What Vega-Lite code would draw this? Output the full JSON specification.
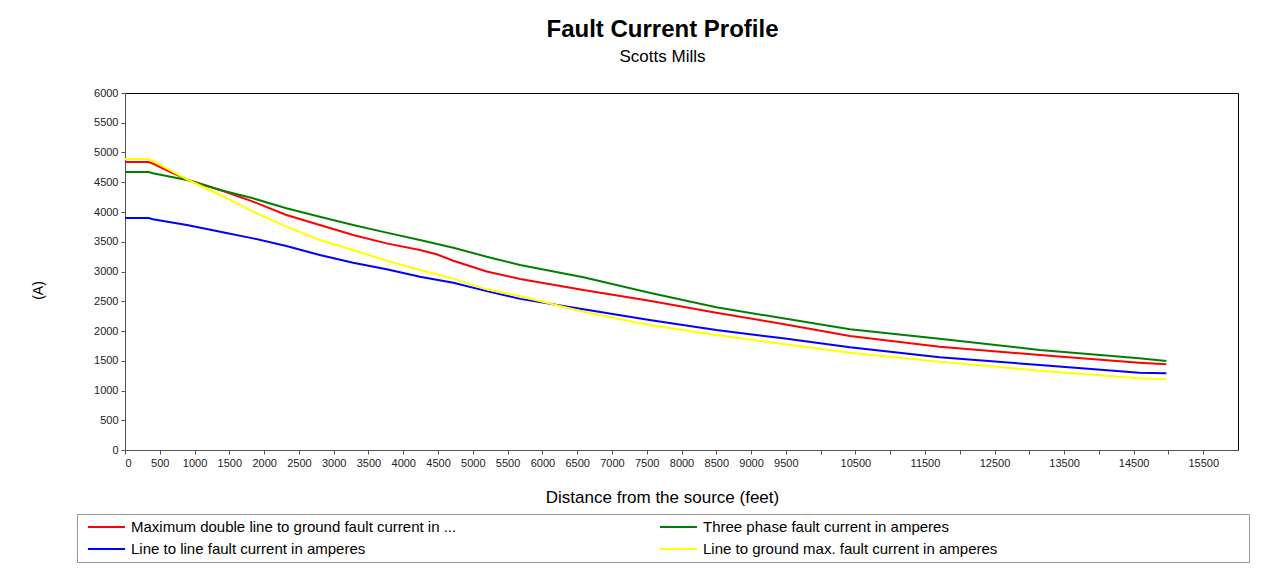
{
  "$schema": "https://vega.github.io/schema/vega-lite/v6.json",
  "width": 1113,
  "height": 357,
  "autosize": {"type": "none"},
  "padding": {"left": 125, "top": 93, "right": 46, "bottom": 125},
  "background": "white",
  "title": {
    "text": "Fault Current Profile",
    "subtitle": "Scotts Mills",
    "font": "Liberation Sans",
    "subtitleFont": "Liberation Sans",
    "fontSize": 24,
    "fontWeight": "bold",
    "subtitleFontSize": 17,
    "color": "#000000",
    "subtitleColor": "#000000",
    "anchor": "middle",
    "dx": -19,
    "offset": 22,
    "subtitlePadding": 7
  },
  "config": {
    "font": "Liberation Sans",
    "view": {"stroke": "#000000", "strokeWidth": 1}
  },
  "data": {
    "values": [
      {"series": "Maximum double line to ground fault current in amperes", "distance": 0, "current": 4840},
      {"series": "Maximum double line to ground fault current in amperes", "distance": 340, "current": 4840},
      {"series": "Maximum double line to ground fault current in amperes", "distance": 400, "current": 4815},
      {"series": "Maximum double line to ground fault current in amperes", "distance": 640, "current": 4680},
      {"series": "Maximum double line to ground fault current in amperes", "distance": 890, "current": 4549},
      {"series": "Maximum double line to ground fault current in amperes", "distance": 1370, "current": 4370},
      {"series": "Maximum double line to ground fault current in amperes", "distance": 1840, "current": 4174},
      {"series": "Maximum double line to ground fault current in amperes", "distance": 2320, "current": 3950},
      {"series": "Maximum double line to ground fault current in amperes", "distance": 2800, "current": 3781},
      {"series": "Maximum double line to ground fault current in amperes", "distance": 3280, "current": 3613},
      {"series": "Maximum double line to ground fault current in amperes", "distance": 3760, "current": 3473},
      {"series": "Maximum double line to ground fault current in amperes", "distance": 4240, "current": 3361},
      {"series": "Maximum double line to ground fault current in amperes", "distance": 4480, "current": 3290},
      {"series": "Maximum double line to ground fault current in amperes", "distance": 4720, "current": 3180},
      {"series": "Maximum double line to ground fault current in amperes", "distance": 5200, "current": 3000},
      {"series": "Maximum double line to ground fault current in amperes", "distance": 5680, "current": 2875},
      {"series": "Maximum double line to ground fault current in amperes", "distance": 6590, "current": 2689},
      {"series": "Maximum double line to ground fault current in amperes", "distance": 7540, "current": 2510},
      {"series": "Maximum double line to ground fault current in amperes", "distance": 8500, "current": 2308},
      {"series": "Maximum double line to ground fault current in amperes", "distance": 9460, "current": 2118},
      {"series": "Maximum double line to ground fault current in amperes", "distance": 10420, "current": 1916},
      {"series": "Maximum double line to ground fault current in amperes", "distance": 11710, "current": 1737},
      {"series": "Maximum double line to ground fault current in amperes", "distance": 13150, "current": 1597},
      {"series": "Maximum double line to ground fault current in amperes", "distance": 14580, "current": 1467},
      {"series": "Maximum double line to ground fault current in amperes", "distance": 14970, "current": 1440},

      {"series": "Three phase fault current in amperes", "distance": 0, "current": 4672},
      {"series": "Three phase fault current in amperes", "distance": 340, "current": 4672},
      {"series": "Three phase fault current in amperes", "distance": 400, "current": 4650},
      {"series": "Three phase fault current in amperes", "distance": 890, "current": 4538},
      {"series": "Three phase fault current in amperes", "distance": 1370, "current": 4370},
      {"series": "Three phase fault current in amperes", "distance": 1840, "current": 4230},
      {"series": "Three phase fault current in amperes", "distance": 2320, "current": 4062},
      {"series": "Three phase fault current in amperes", "distance": 2800, "current": 3921},
      {"series": "Three phase fault current in amperes", "distance": 3280, "current": 3781},
      {"series": "Three phase fault current in amperes", "distance": 3760, "current": 3653},
      {"series": "Three phase fault current in amperes", "distance": 4240, "current": 3529},
      {"series": "Three phase fault current in amperes", "distance": 4720, "current": 3400},
      {"series": "Three phase fault current in amperes", "distance": 5200, "current": 3249},
      {"series": "Three phase fault current in amperes", "distance": 5680, "current": 3110},
      {"series": "Three phase fault current in amperes", "distance": 6590, "current": 2902},
      {"series": "Three phase fault current in amperes", "distance": 7540, "current": 2644},
      {"series": "Three phase fault current in amperes", "distance": 8500, "current": 2398},
      {"series": "Three phase fault current in amperes", "distance": 9460, "current": 2213},
      {"series": "Three phase fault current in amperes", "distance": 10420, "current": 2028},
      {"series": "Three phase fault current in amperes", "distance": 11710, "current": 1870},
      {"series": "Three phase fault current in amperes", "distance": 13150, "current": 1681},
      {"series": "Three phase fault current in amperes", "distance": 14580, "current": 1541},
      {"series": "Three phase fault current in amperes", "distance": 14970, "current": 1496},

      {"series": "Line to line fault current in amperes", "distance": 0, "current": 3899},
      {"series": "Line to line fault current in amperes", "distance": 340, "current": 3899},
      {"series": "Line to line fault current in amperes", "distance": 400, "current": 3877},
      {"series": "Line to line fault current in amperes", "distance": 890, "current": 3781},
      {"series": "Line to line fault current in amperes", "distance": 1370, "current": 3669},
      {"series": "Line to line fault current in amperes", "distance": 1840, "current": 3557},
      {"series": "Line to line fault current in amperes", "distance": 2320, "current": 3429},
      {"series": "Line to line fault current in amperes", "distance": 2800, "current": 3277},
      {"series": "Line to line fault current in amperes", "distance": 3280, "current": 3148},
      {"series": "Line to line fault current in amperes", "distance": 3760, "current": 3037},
      {"series": "Line to line fault current in amperes", "distance": 4240, "current": 2913},
      {"series": "Line to line fault current in amperes", "distance": 4720, "current": 2810},
      {"series": "Line to line fault current in amperes", "distance": 5200, "current": 2670},
      {"series": "Line to line fault current in amperes", "distance": 5680, "current": 2540},
      {"series": "Line to line fault current in amperes", "distance": 6590, "current": 2364},
      {"series": "Line to line fault current in amperes", "distance": 7540, "current": 2185},
      {"series": "Line to line fault current in amperes", "distance": 8500, "current": 2017},
      {"series": "Line to line fault current in amperes", "distance": 9460, "current": 1877},
      {"series": "Line to line fault current in amperes", "distance": 10420, "current": 1726},
      {"series": "Line to line fault current in amperes", "distance": 11710, "current": 1558},
      {"series": "Line to line fault current in amperes", "distance": 13150, "current": 1429},
      {"series": "Line to line fault current in amperes", "distance": 14580, "current": 1300},
      {"series": "Line to line fault current in amperes", "distance": 14970, "current": 1289},

      {"series": "Line to ground max. fault current in amperes", "distance": 0, "current": 4890},
      {"series": "Line to ground max. fault current in amperes", "distance": 340, "current": 4890},
      {"series": "Line to ground max. fault current in amperes", "distance": 400, "current": 4857},
      {"series": "Line to ground max. fault current in amperes", "distance": 640, "current": 4706},
      {"series": "Line to ground max. fault current in amperes", "distance": 890, "current": 4550},
      {"series": "Line to ground max. fault current in amperes", "distance": 1370, "current": 4286},
      {"series": "Line to ground max. fault current in amperes", "distance": 1840, "current": 4006},
      {"series": "Line to ground max. fault current in amperes", "distance": 2320, "current": 3753},
      {"series": "Line to ground max. fault current in amperes", "distance": 2800, "current": 3529},
      {"series": "Line to ground max. fault current in amperes", "distance": 3280, "current": 3361},
      {"series": "Line to ground max. fault current in amperes", "distance": 3760, "current": 3182},
      {"series": "Line to ground max. fault current in amperes", "distance": 4240, "current": 3025},
      {"series": "Line to ground max. fault current in amperes", "distance": 4720, "current": 2880},
      {"series": "Line to ground max. fault current in amperes", "distance": 5200, "current": 2700},
      {"series": "Line to ground max. fault current in amperes", "distance": 5680, "current": 2585},
      {"series": "Line to ground max. fault current in amperes", "distance": 6590, "current": 2325},
      {"series": "Line to ground max. fault current in amperes", "distance": 7540, "current": 2101},
      {"series": "Line to ground max. fault current in amperes", "distance": 8500, "current": 1933},
      {"series": "Line to ground max. fault current in amperes", "distance": 9460, "current": 1782},
      {"series": "Line to ground max. fault current in amperes", "distance": 10420, "current": 1636},
      {"series": "Line to ground max. fault current in amperes", "distance": 11710, "current": 1485},
      {"series": "Line to ground max. fault current in amperes", "distance": 13150, "current": 1333},
      {"series": "Line to ground max. fault current in amperes", "distance": 14580, "current": 1205},
      {"series": "Line to ground max. fault current in amperes", "distance": 14970, "current": 1188}
    ]
  },
  "mark": {"type": "line", "strokeWidth": 2},
  "encoding": {
    "x": {
      "field": "distance",
      "type": "quantitative",
      "scale": {"domain": [0, 16000], "nice": false, "zero": true},
      "axis": {
        "title": "Distance from the source (feet)",
        "values": [0, 500, 1000, 1500, 2000, 2500, 3000, 3500, 4000, 4500, 5000, 5500, 6000, 6500, 7000, 7500, 8000, 8500, 9000, 9500, 10000, 10500, 11000, 11500, 12000, 12500, 13000, 13500, 14000, 14500, 15000, 15500],
        "format": "d",
        "labelExpr": "datum.value >= 10000 && datum.value % 1000 == 0 ? '' : datum.label",
        "labelFontSize": 11,
        "labelColor": "#222222",
        "labelPadding": 3,
        "labelOverlap": false,
        "tickSize": 4,
        "tickColor": "#555555",
        "domainColor": "#555555",
        "grid": false,
        "titleFontSize": 17,
        "titleFontWeight": "normal",
        "titleColor": "#000000",
        "titleX": 537,
        "titleY": 47,
        "titleAlign": "center",
        "titleBaseline": "middle"
      }
    },
    "y": {
      "field": "current",
      "type": "quantitative",
      "scale": {"domain": [0, 6000], "nice": false},
      "axis": {
        "title": "(A)",
        "values": [0, 500, 1000, 1500, 2000, 2500, 3000, 3500, 4000, 4500, 5000, 5500, 6000],
        "format": "d",
        "labelFontSize": 11,
        "labelColor": "#222222",
        "labelPadding": 3,
        "tickSize": 4,
        "tickColor": "#555555",
        "domainColor": "#555555",
        "grid": false,
        "titleFontSize": 14,
        "titleFontWeight": "normal",
        "titleColor": "#000000",
        "titleAngle": -90,
        "titleX": -87,
        "titleY": 197,
        "titleAlign": "center",
        "titleBaseline": "middle"
      }
    },
    "color": {
      "field": "series",
      "type": "nominal",
      "scale": {
        "domain": [
          "Maximum double line to ground fault current in amperes",
          "Line to line fault current in amperes",
          "Three phase fault current in amperes",
          "Line to ground max. fault current in amperes"
        ],
        "range": ["#ff0000", "#0000ff", "#008000", "#ffff00"]
      },
      "legend": {
        "title": null,
        "orient": "none",
        "legendX": -48,
        "legendY": 421,
        "columns": 2,
        "columnPadding": 197,
        "rowPadding": 6,
        "padding": 5,
        "clipHeight": 16,
        "symbolOffset": 5,
        "symbolType": "stroke",
        "symbolSize": 1369,
        "symbolStrokeWidth": 2,
        "labelFontSize": 15,
        "labelColor": "#000000",
        "labelOffset": 5,
        "labelLimit": 1000,
        "fillColor": "#ffffff",
        "strokeColor": "#999999",
        "labelExpr": "datum.label == 'Maximum double line to ground fault current in amperes' ? 'Maximum double line to ground fault current in ...' : ((datum.label == 'Three phase fault current in amperes' || datum.label == 'Line to ground max. fault current in amperes') ? pad(datum.label, 103, '\u00a0') + '\u200b' : datum.label)"
      }
    }
  }
}
